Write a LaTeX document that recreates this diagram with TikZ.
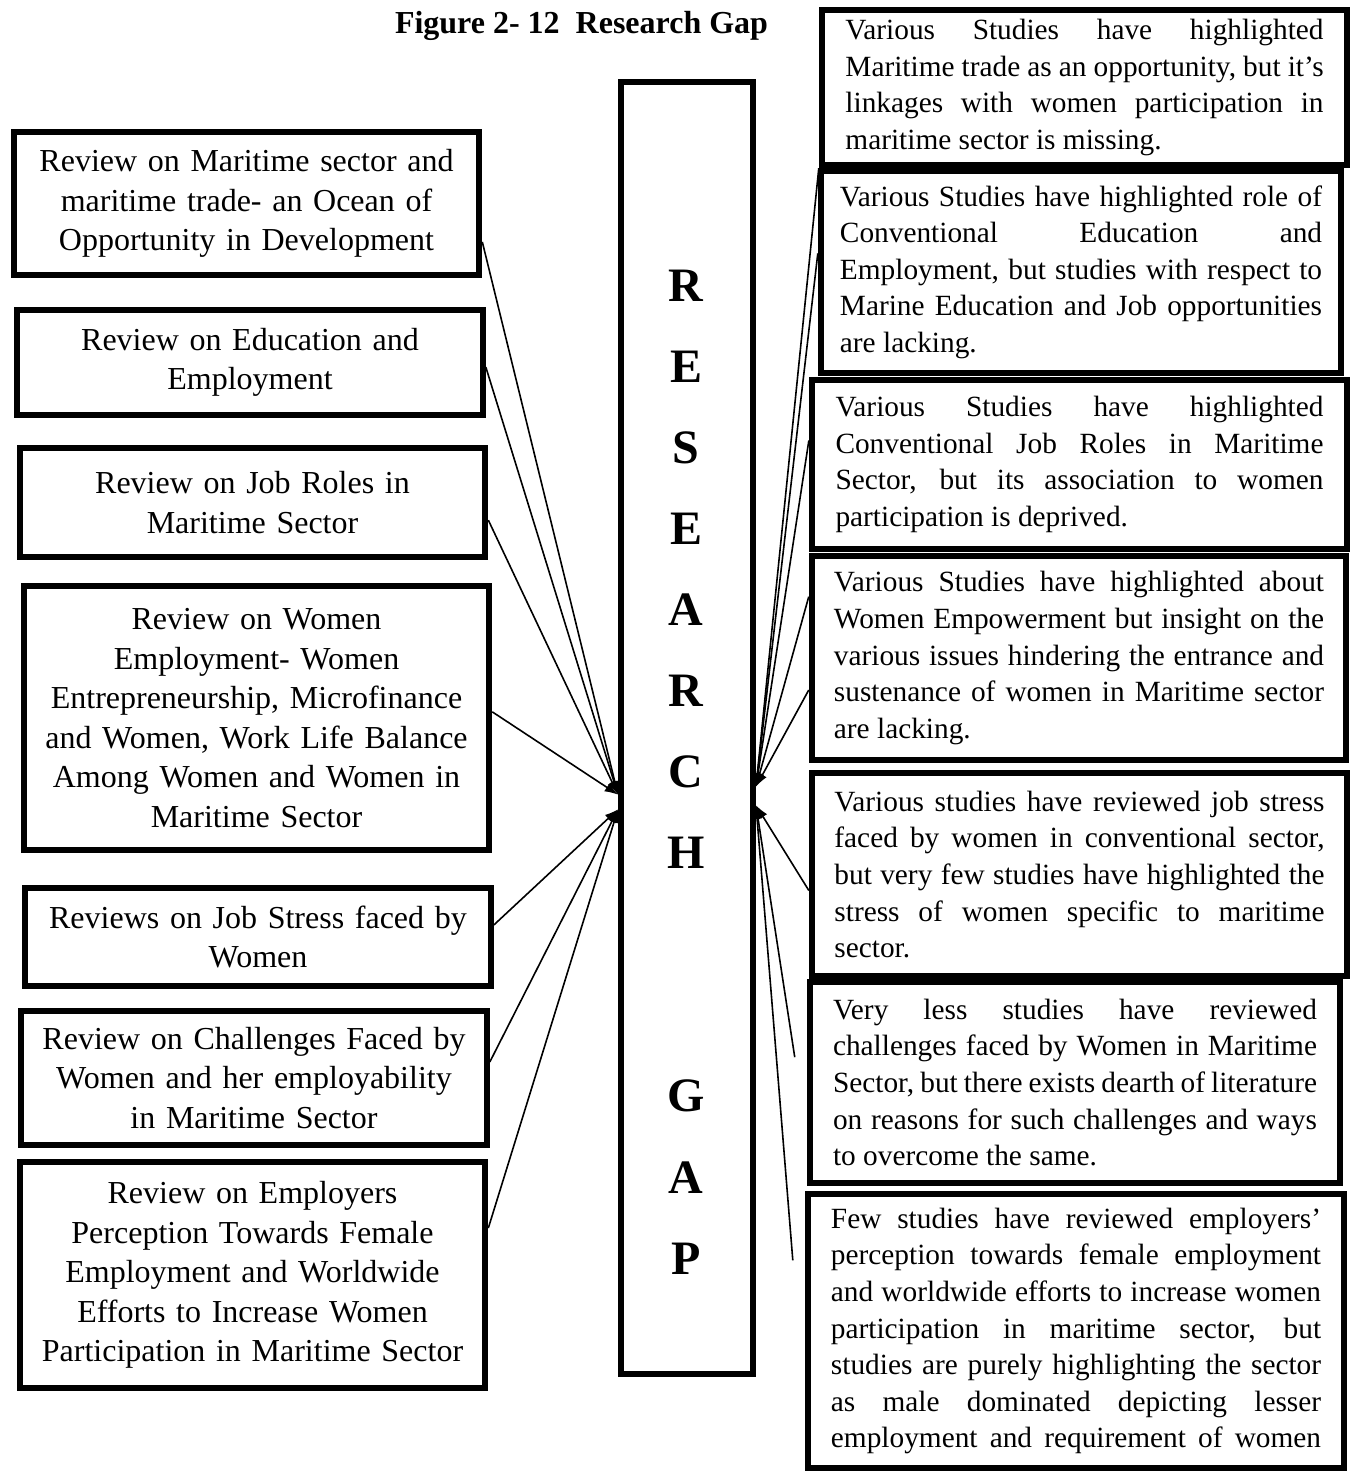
\documentclass[tikz,border=0pt]{standalone}
\usepackage{fontspec}
\setmainfont{Liberation Serif}
\usetikzlibrary{shapes}
\usetikzlibrary{arrows.meta}
\tolerance=10000
\pretolerance=10000
\hyphenpenalty=10000

\begin{document}
\begin{tikzpicture}[x=0.375pt,y=-0.375pt]
\useasboundingbox (0,0) rectangle (1351,1471);

% Define the review style for the boxes on the left
\tikzstyle{review}=[rectangle,draw=black,line width=2.25pt,inner sep=0pt,minimum width=174.6pt,text width=170pt,align=center,font=\fontsize{12}{14.8}\selectfont]

% Define the study style for the boxes on the right
\tikzstyle{study}=[rectangle,draw=black,line width=2.4pt,inner sep=0pt,align=justify,font=\fontsize{11}{13.7}\selectfont]

% Define the arrow style for the connectors
\tikzstyle{arrow}=[line width=0.6pt,-{Latex[length=5pt,width=3.6pt]}]

\node (title) [font=\fontsize{12}{14}\selectfont\bfseries] at (581.5,25.5) {Figure 2- 12~~Research Gap};

% the research gap column in the middle
\node (gap) [rectangle,draw=black,line width=2.25pt,minimum width=49.5pt,minimum height=484.5pt,inner sep=0pt] at (687,728) {};
\node (word) [font=\fontsize{18}{30.4}\selectfont\bfseries,align=center,inner sep=0pt] at (686,772) {R\\E\\S\\E\\A\\R\\C\\H\\[60.8pt]G\\A\\P};

% define the review nodes
\node (l1) [review,minimum height=53.6pt] at (246.5,203.5) {Review on Maritime sector and\\maritime trade- an Ocean of\\Opportunity in Development};
\node (l2) [review,minimum height=39.4pt] at (250,362.5) {Review on Education and\\Employment};
\node (l3) [review,minimum height=40.9pt] at (252.5,502.5) {Review on Job Roles in\\Maritime Sector};
\node (l4) [review,minimum height=99pt] at (256.5,718) {Review on Women\\Employment- Women\\Entrepreneurship, Microfinance\\and Women, Work Life Balance\\Among Women and Women in\\Maritime Sector};
\node (l5) [review,minimum height=36.8pt] at (258,937) {Reviews on Job Stress faced by\\Women};
\node (l6) [review,minimum height=50.3pt] at (254,1078) {Review on Challenges Faced by\\Women and her employability\\in Maritime Sector};
\node (l7) [review,minimum height=84.8pt] at (252.5,1275) {Review on Employers\\Perception Towards Female\\Employment and Worldwide\\Efforts to Increase Women\\Participation in Maritime Sector};

% define the study nodes
\node (r1) [study,minimum width=196.9pt,minimum height=58.1pt,text width=179.3pt] at (1084.5,87.5) {Various Studies have highlighted\linebreak Maritime trade as an opportunity, but it’s\linebreak linkages with women participation in\linebreak maritime sector is missing.};
\node (r2) [study,minimum width=195pt,minimum height=75.8pt,text width=180.8pt] at (1081,272) {Various Studies have highlighted role of\linebreak Conventional Education and\linebreak Employment, but studies with respect to\linebreak Marine Education and Job opportunities\linebreak are lacking.};
\node (r3) [study,minimum width=200.6pt,minimum height=63.4pt,text width=183pt] at (1079.5,464.5) {Various Studies have highlighted\linebreak Conventional Job Roles in Maritime\linebreak Sector, but its association to women\linebreak participation is deprived.};
\node (r4) [study,minimum width=200.3pt,minimum height=76.5pt,text width=183.8pt] at (1079,658) {Various Studies have highlighted about\linebreak Women Empowerment but insight on the\linebreak various issues hindering the entrance and\linebreak sustenance of women in Maritime sector\linebreak are lacking.};
\node (r5) [study,minimum width=200.6pt,minimum height=76.1pt,text width=183.8pt] at (1079.5,874.5) {Various studies have reviewed job stress\linebreak faced by women in conventional sector,\linebreak but very few studies have highlighted the\linebreak stress of women specific to maritime\linebreak sector.};
\node (r6) [study,minimum width=198.8pt,minimum height=75.4pt,text width=181.5pt] at (1075,1082.5) {Very less studies have reviewed\linebreak challenges faced by Women in Maritime\linebreak Sector, but there exists dearth of literature\linebreak on reasons for such challenges and ways\linebreak to overcome the same.};
\node (r7) [study,minimum width=201pt,minimum height=102.8pt,text width=183.8pt] at (1076,1331) {Few studies have reviewed employers’\linebreak perception towards female employment\linebreak and worldwide efforts to increase women\linebreak participation in maritime sector, but\linebreak studies are purely highlighting the sector\linebreak as male dominated depicting lesser\linebreak \makebox[\hsize][s]{employment and requirement of women}};

% where the arrows meet the gap column
\coordinate (inL) at ([yshift=-25pt]gap.west);
\coordinate (inLb) at ([yshift=-30.5pt]gap.west);
\coordinate (inR) at ([yshift=-22pt]gap.east);
\coordinate (inRb) at ([yshift=-29pt]gap.east);

% define the arrows between the nodes
\draw[arrow] ([yshift=-14.4pt]l1.east) -- (inL);
\draw[arrow] ([yshift=-1.7pt]l2.east) -- (inL);
\draw[arrow] ([yshift=-6.6pt]l3.east) -- (inL);
\draw[arrow] ([yshift=2.3pt]l4.east) -- (inL);
\draw[arrow] ([yshift=4.5pt]l5.east) -- (inLb);
\draw[arrow] ([yshift=6pt]l6.east) -- (inLb);
\draw[arrow] ([yshift=17.6pt]l7.east) -- (inLb);

\draw[arrow] (r1.south west) -- (inR);
\draw[arrow] ([yshift=7pt]r2.west) -- (inR);
\draw[arrow] ([yshift=9pt]r3.west) -- (inR);
\draw[arrow] ([yshift=23pt]r4.west) -- (inR);
\draw[arrow] ([yshift=-12pt]r4.west) -- (inR);
\draw[arrow] ([yshift=-6pt]r5.west) -- (inRb);
\draw[arrow] ([xshift=-4.5pt,yshift=9.5pt]r6.west) -- (inRb);
\draw[arrow] ([xshift=-4.5pt,yshift=26.5pt]r7.west) -- (inRb);

\end{tikzpicture}
\end{document}
